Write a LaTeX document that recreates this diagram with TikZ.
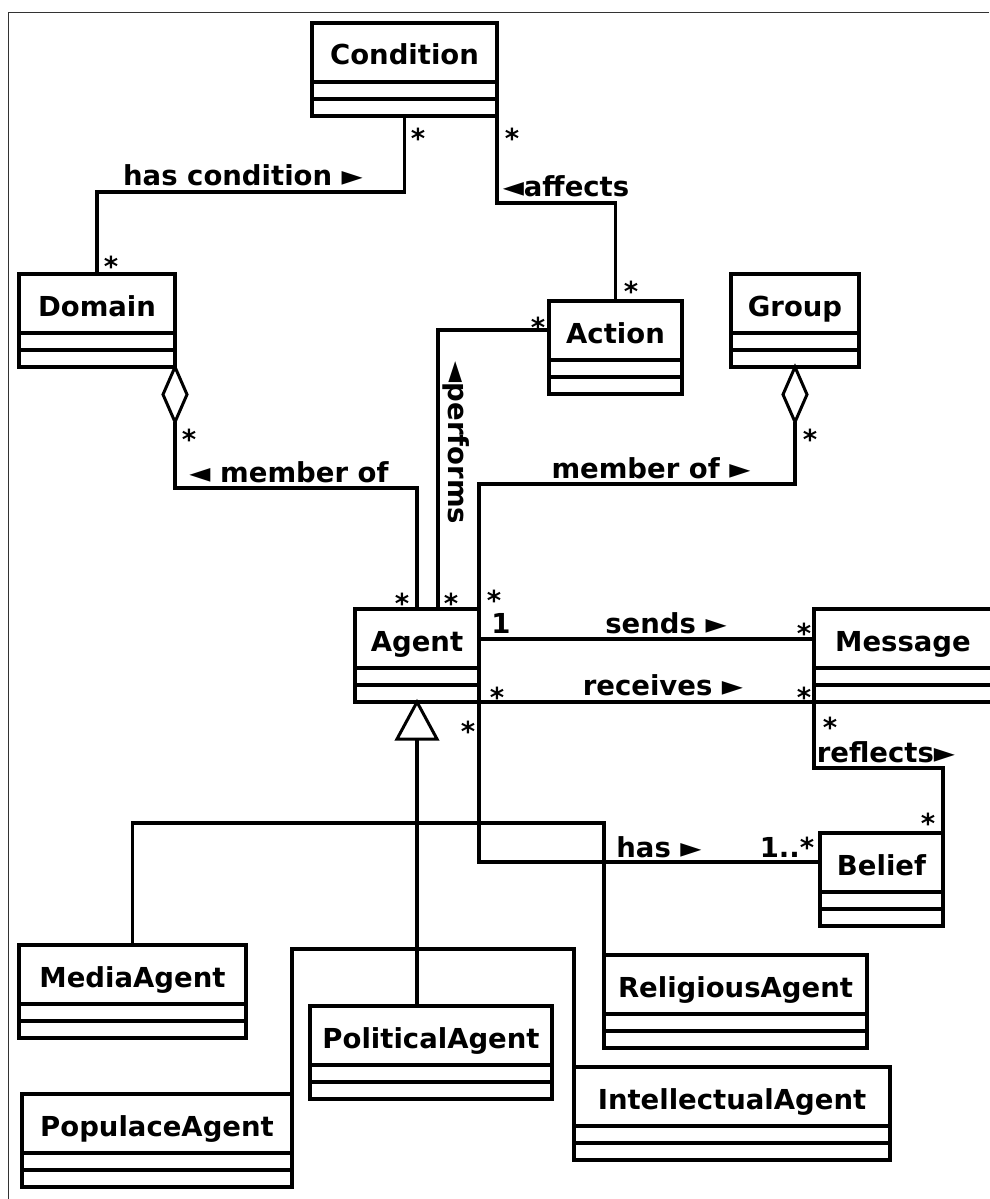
\documentclass[tikz,border=0pt]{standalone}
\usepackage{fontspec}
\setmainfont{DejaVu Sans}
\usetikzlibrary{calc}
\tikzset{
  cls/.style={draw, line width=3.5pt, fill=white, rectangle, inner sep=0pt, outer sep=0pt, minimum height=93pt, anchor=north west},
  conn/.style={line width=3.5pt, line join=miter},
  lbl/.style={inner sep=0pt, outer sep=0pt, anchor=base, font=\bfseries\fontsize{27.5}{33}\selectfont},
  dia/.style={line width=3pt, fill=white, line join=miter},
  frameline/.style={line width=1pt, draw=black!80},
}
\newcommand{\umlclass}[5]{%
  \node[cls, minimum width={#4-#2}] (#1) at (#2,#3) {};
  \draw[conn] ($(#1.north west)+(0,59)$) -- ($(#1.north east)+(0,59)$);
  \draw[conn] ($(#1.north west)+(0,76)$) -- ($(#1.north east)+(0,76)$);
  \node[lbl] (#1-t) at ($(#1.north)+(0,42)$) {#5};
}
\begin{document}
\begin{tikzpicture}[x=1pt,y=-1pt]
\useasboundingbox (0,0) rectangle (989,1199);
\fill[white] (0,0) rectangle (989,1199);
\draw[frameline] (989,12.5) -- (8,12.5) -- (8,1199);

% classes
\umlclass{cond}{312}{23}{497}{Condition}
\umlclass{dom}{19}{274}{175}{Domain}
\umlclass{act}{549}{301}{682}{Action}
\umlclass{grp}{731}{274}{859}{Group}
\umlclass{agent}{355}{609}{479}{Agent}
\umlclass{msg}{814}{609}{992}{Message}
\umlclass{bel}{820}{833}{943}{Belief}
\umlclass{media}{19}{945}{246}{MediaAgent}
\umlclass{pol}{310}{1006}{552}{PoliticalAgent}
\umlclass{rel}{604}{955}{867}{ReligiousAgent}
\umlclass{int}{574}{1067}{890}{IntellectualAgent}
\umlclass{pop}{22}{1094}{292}{PopulaceAgent}

% connectors
\draw[conn] (cond.south) -- ++(0,76) -| (dom.north);
\draw[conn] (cond.south east) -- ++(0,87) -| (act.north);
\draw[conn] ($(act.north west)+(0,29)$) -| ($(agent.north west)+(83,0)$);
\coordinate (domd) at ($(dom.south east)+(0,55)$);
\coordinate (grpd) at ($(grp.south)+(0,55)$);
\draw[conn] (domd) -- ++(0,66) -| (agent.north);
\draw[conn] (agent.north east) -- ++(0,-125) -| (grpd);
\draw[conn] ($(agent.north east)+(0,30)$) -- ($(msg.north west)+(0,30)$);
\draw[conn] (agent.south east) -- (msg.south west);
\draw[conn] (agent.south east) |- ($(bel.north west)+(0,29)$);
\draw[conn] (msg.south west) -- ++(0,66) -| (bel.north east);
\draw[conn] ($(agent.south)+(0,37)$) -- (agent.south |- pol.north);
\draw[conn] (media.north) -- ++(0,-122) -| (rel.north west);
\draw[conn] (pop.north east) -- ++(0,-145) -| (int.north west);
% aggregation diamonds
\draw[dia] (dom.south east) -- ++(-12,27.5) -- ++(12,27.5) -- ++(12,-27.5) -- cycle;
\draw[dia] (grp.south) -- ++(-12,27.5) -- ++(12,27.5) -- ++(12,-27.5) -- cycle;
% generalization triangle
\draw[dia] (agent.south) -- ++(20,37) -- ++(-40,0) -- cycle;

% labels
\node[lbl] (m1) at (418,148) {*};
\node[lbl] (lhc) at (243,185) {has condition ►};
\node[lbl] (m2) at (111,276) {*};
\node[lbl] (m3) at (512,148) {*};
\node[lbl] (laff) at (566,196) {◄affects};
\node[lbl] (m4) at (631,301) {*};
\node[lbl] (m5) at (538,337) {*};
\node[lbl, rotate=-90] (lperf) at (448,443) {◄performs};
\node[lbl] (m6) at (189,449) {*};
\node[lbl] (lmem1) at (289,482) {◄ member of};
\node[lbl] (lmem2) at (651,478) {member of ►};
\node[lbl] (m7) at (810,449) {*};
\node[lbl] (m8) at (402,613) {*};
\node[lbl] (m9) at (451,613) {*};
\node[lbl] (m10) at (494,610) {*};
\node[lbl] (m11) at (501,633) {1};
\node[lbl] (lsend) at (666,633) {sends ►};
\node[lbl] (m12) at (804,643) {*};
\node[lbl] (lrec) at (663,695) {receives ►};
\node[lbl] (m13) at (497,707) {*};
\node[lbl] (m14) at (804,707) {*};
\node[lbl] (m15) at (468,741) {*};
\node[lbl] (m16) at (830,737) {*};
\node[lbl] (lrefl) at (886,762) {reflects►};
\node[lbl] (m17) at (928,833) {*};
\node[lbl] (lhas) at (659,857) {has ►};
\node[lbl] (m18) at (787,857) {1..*};
\end{tikzpicture}
\end{document}
